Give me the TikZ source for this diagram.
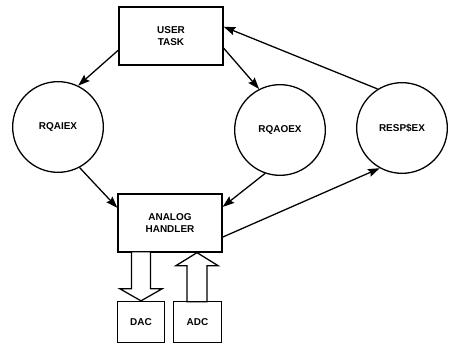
\documentclass[tikz,border=0pt]{standalone}
\usepackage{fontspec}
\setsansfont{Liberation Sans}
\usetikzlibrary{arrows.meta, calc}

\begin{document}
\begin{tikzpicture}[x=0.03cm, y=-0.03cm,
  box/.style={rectangle, draw, line width=1.1pt, align=center, minimum width=3.12cm, minimum height=1.74cm, font=\sffamily\bfseries\fontsize{8.5}{10.8}\selectfont},
  small/.style={rectangle, draw, line width=1.1pt, minimum width=1.42cm, minimum height=1.23cm, font=\sffamily\bfseries\fontsize{8.5}{10.8}\selectfont},
  task/.style={circle, draw, line width=1.1pt, minimum size=2.72cm, font=\sffamily\bfseries\fontsize{8.5}{10.8}\selectfont},
  arrow/.style={line width=1.1pt, -{Stealth[length=10pt, width=7pt, inset=1.5pt]}},
  hollow/.style={line width=1.1pt, line join=miter, fill=white}]

\useasboundingbox (0,0) rectangle (452,346);

\node[box] (user) at (171,36) {USER\\TASK};
\node[task] (rqaiex) at (58,127) {RQAIEX};
\node[task] (rqaoex) at (280,130) {RQAOEX};
\node[task] (resp) at (402,128) {RESP\$EX};
\node[box] (analog) at (170,223) {ANALOG\\HANDLER};
\node[small] (dac) at (141,322) {DAC};
\node[small] (adc) at (197.5,322) {ADC};

\draw[arrow] (user.195) -- (rqaiex.64);
\draw[arrow] (user.347) -- (rqaoex.117);
\draw[arrow] (resp.122) -- (user.10);
\draw[arrow] (rqaiex.298) -- (analog.164);
\draw[arrow] (rqaoex.251) -- (analog.17);
\draw[arrow] (analog.345) -- (resp.241);

% wide hollow arrows to and from the converters
\draw[hollow] (dac.north) -- ++(-21,-12) -- ++(11.5,0) -- ++(0,-37)
  -- ++(19,0) -- ++(0,37) -- ++(11.5,0) -- cycle;
\draw[hollow] ($(analog.south)+(27,0)$) -- ++(-21,13) -- ++(11,0) -- ++(0,36)
  -- ++(20,0) -- ++(0,-36) -- ++(11,0) -- cycle;

\end{tikzpicture}
\end{document}
